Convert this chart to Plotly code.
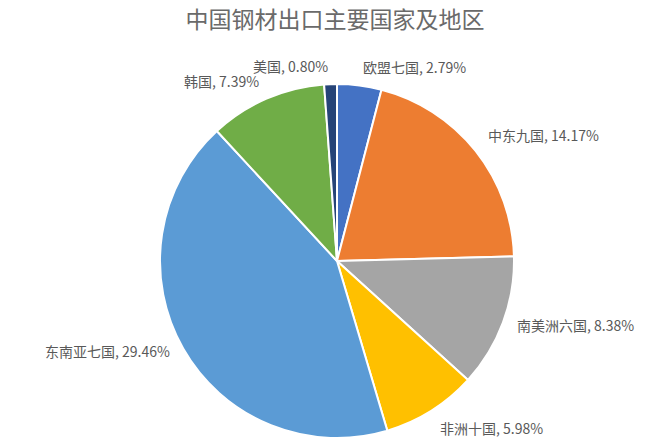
import math
import plotly.graph_objects as go

categories = ["欧盟七国", "中东九国", "南美洲六国", "非洲十国", "东南亚七国", "韩国", "美国"]
shares = [2.79, 14.17, 8.38, 5.98, 29.46, 7.39, 0.80]
colors = ["#4472C4", "#ED7D31", "#A5A5A5", "#FFC000", "#5B9BD5", "#70AD47", "#264478"]
title_text = "中国钢材出口主要国家及地区"

W, H = 670, 445
cx, cy, R = 337, 261, 177
FONT = "Noto Sans CJK SC, Noto Sans, sans-serif"

fig = go.Figure(go.Pie(
    labels=categories, values=shares, sort=False, direction="clockwise", rotation=0,
    marker=dict(colors=colors, line=dict(color="white", width=2)),
    textinfo="none", hoverinfo="label+value", showlegend=False,
    domain=dict(x=[(cx - R) / W, (cx + R) / W], y=[(H - cy - R) / H, (H - cy + R) / H]),
))

# data labels placed just outside each slice (angle derived from the values)
total = sum(shares)
cum = 0.0
for name, v in zip(categories, shares):
    mid = (cum + v / 2) / total * 2 * math.pi
    cum += v
    s, c = math.sin(mid), math.cos(mid)
    px = cx + (R + 13) * s
    py = cy - (R + 6) * c
    xa = "left" if s >= 0 else "right"
    ya = "bottom" if c > 0.5 else ("top" if c < -0.6 else "middle")
    fig.add_annotation(
        x=px / W, y=(H - py) / H, xref="paper", yref="paper",
        text=f"{name}, {v:.2f}%", showarrow=False, xanchor=xa, yanchor=ya,
        font=dict(family=FONT, size=14, color="#595959"),
    )

fig.update_layout(
    width=W, height=H, margin=dict(l=0, r=0, t=0, b=0),
    paper_bgcolor="white", plot_bgcolor="white",
    title=dict(text=title_text, x=0.5, xanchor="center", y=1 - 20 / H, yanchor="middle",
               font=dict(family=FONT, size=23, color="#6a6a6a")),
)

fig.write_html("out.html", config={"displayModeBar": False},
               post_script="document.body.style.margin='0px';")
